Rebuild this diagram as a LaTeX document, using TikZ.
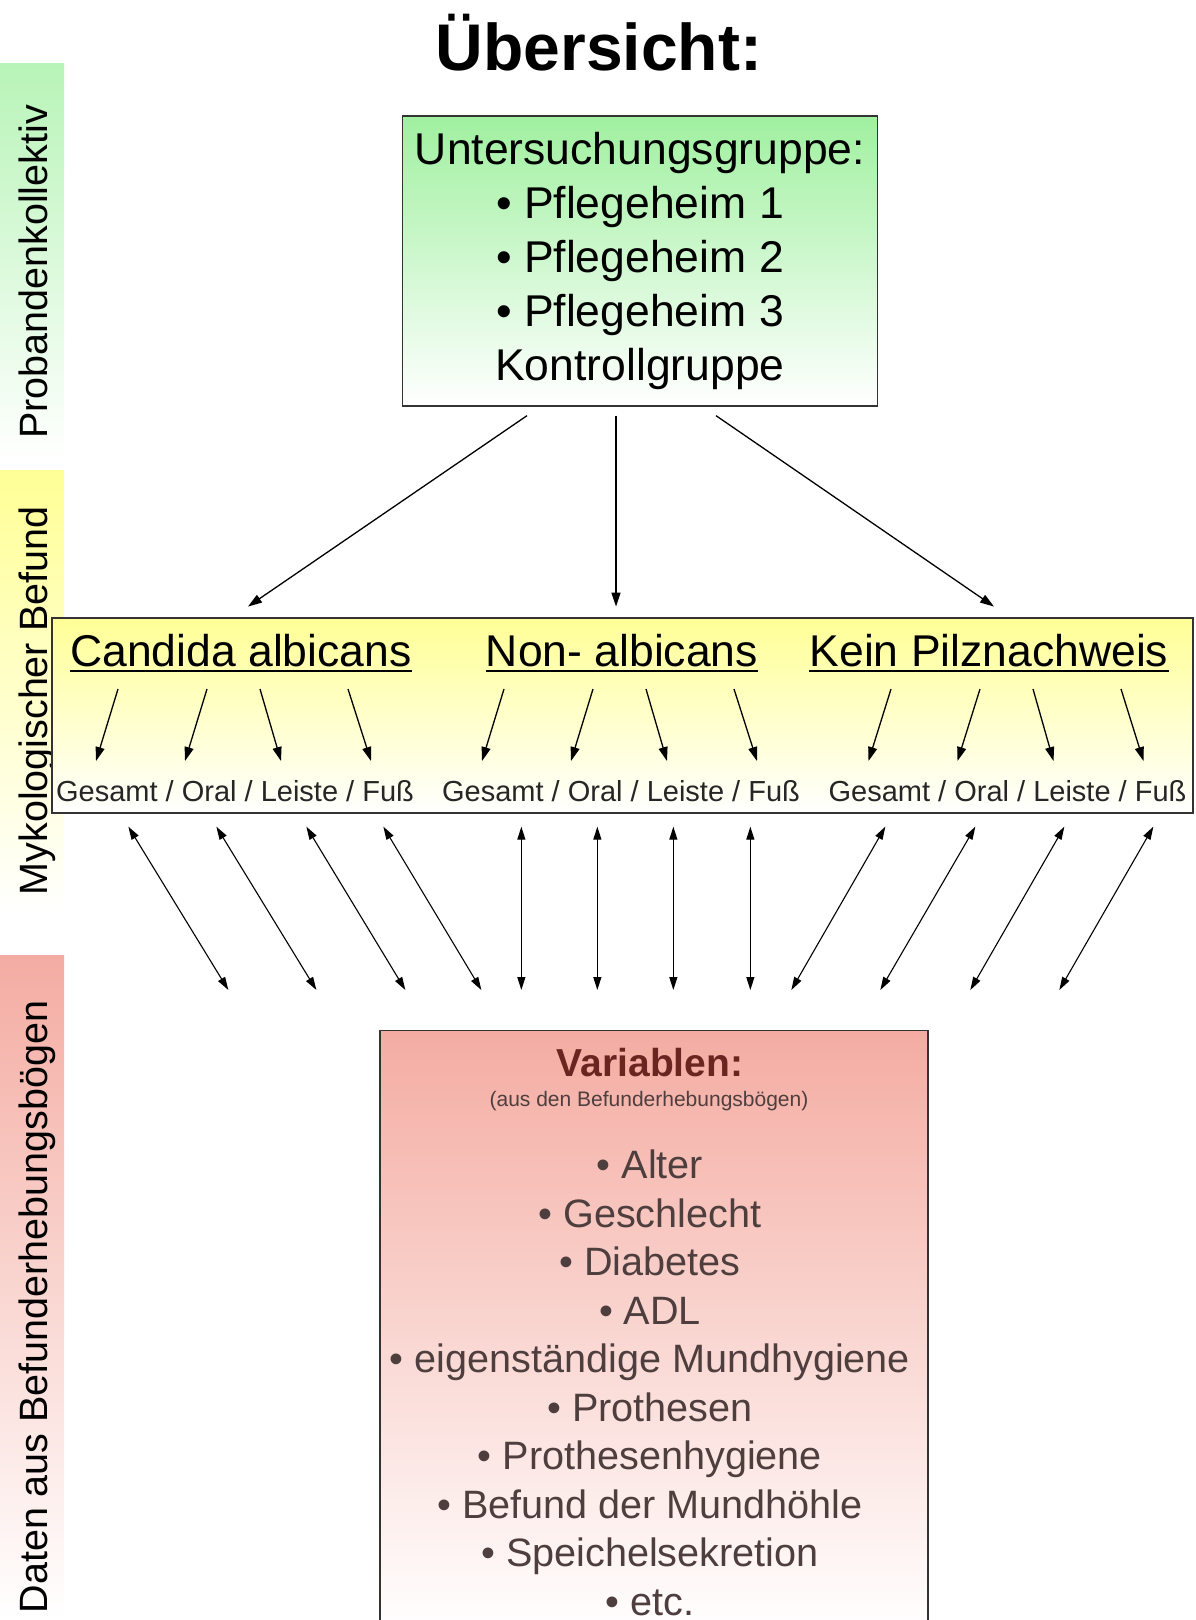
\documentclass[tikz,border=0pt]{standalone}
\usepackage{fontspec}
\setmainfont{Liberation Sans}
\usetikzlibrary{arrows.meta,positioning}
\definecolor{gruen}{RGB}{160,240,160}
\definecolor{gelb}{RGB}{255,255,150}
\definecolor{lachs}{RGB}{244,172,162}
\definecolor{rottext}{RGB}{105,38,32}
\definecolor{grautext}{RGB}{78,62,62}
\tikzset{
  bigfont/.style = {font=\fontsize{44.5}{54}\selectfont},
  gbox/.style    = {draw=black!80,line width=1.3pt,top color=gruen,middle color=gruen!35,
                    bottom color=white,minimum width=475pt,minimum height=290pt,
                    align=center,bigfont},
  ybox/.style    = {draw=black!80,line width=1.3pt,top color=gelb,middle color=gelb!45,
                    bottom color=white,minimum width=1141pt,minimum height=195pt},
  rbox/.style    = {draw=black!80,line width=1.3pt,top color=lachs,middle color=lachs!40,
                    bottom color=white,minimum width=548pt,minimum height=600pt},
  kopf/.style    = {inner sep=0pt,anchor=base,bigfont},
  teil/.style    = {inner sep=0pt,anchor=base,font=\fontsize{29}{34}\selectfont,text=black!85},
  seite/.style   = {rotate=90,anchor=base,inner sep=0pt,font=\fontsize{39.5}{44}\selectfont},
  pfeil/.style   = {-{Triangle[length=14pt,width=9pt]},line width=1.3pt},
  dpfeil/.style  = {{Triangle[length=13pt,width=8pt]}-{Triangle[length=13pt,width=8pt]},
                    line width=1.1pt},
  uline/.style   = {line width=1.5pt},
}
\begin{document}
\begin{tikzpicture}[x=1pt,y=-1pt]
  \useasboundingbox (0,0) rectangle (1195,1620);
  % side bars
  \shade[top color=gruen!75,bottom color=white] (0,63) rectangle (64,462);
  \shade[top color=gelb,bottom color=white] (0,470) rectangle (64,915);
  \shade[top color=lachs,bottom color=white] (0,955) rectangle (64,1620);
  \node[seite] (s1) at (47,272) {Probandenkollektiv};
  \node[seite] (s2) at (47,701) {Mykologischer Befund};
  \node[seite] (s3) at (47,1307) {Daten aus Befunderhebungsbögen};

  \node[anchor=base,font=\fontsize{66}{70}\selectfont\bfseries] (titel) at (599,70) {Übersicht:};

  % groups
  \node[gbox] (grp) at (640,261) {Untersuchungsgruppe:\\ • Pflegeheim 1\\ • Pflegeheim 2\\
        • Pflegeheim 3\\ Kontrollgruppe};

  % mycology
  \node[ybox] (befund) at (622.5,715.5) {};
  \node[kopf] (ca) at (241,666) {Candida albicans};
  \node[kopf] (nca) at (622,666) {Non- albicans};
  \node[kopf] (kein) at (989,666) {Kein Pilznachweis};
  \draw[uline] ([yshift=-5pt]ca.base west) -- ([yshift=-5pt]ca.base east);
  \draw[uline] ([yshift=-5pt]nca.base west) -- ([yshift=-5pt]nca.base east);
  \draw[uline] ([yshift=-5pt]kein.base west) -- ([yshift=-5pt]kein.base east);
  \node[teil] (lab1) at (235,801) {Gesamt / Oral / Leiste / Fuß};
  \node[teil] (lab2) at (621,801) {Gesamt / Oral / Leiste / Fuß};
  \node[teil] (lab3) at (1007.5,801) {Gesamt / Oral / Leiste / Fuß};

  \draw[pfeil] ([xshift=-113pt,yshift=-9pt]grp.south) -- ([xshift=7pt,yshift=27pt]ca.north);
  \draw[pfeil] ([xshift=-24pt,yshift=-9pt]grp.south) -- ([xshift=-6pt,yshift=27pt]nca.north);
  \draw[pfeil] ([xshift=76pt,yshift=-9pt]grp.south) -- ([xshift=5pt,yshift=27pt]kein.north);

  \draw[pfeil] ([xshift=-123pt,yshift=-23pt]ca.base) -- ([xshift=-139pt,yshift=40pt]lab1.base);
  \draw[pfeil] ([xshift=-34pt,yshift=-23pt]ca.base) -- ([xshift=-50pt,yshift=40pt]lab1.base);
  \draw[pfeil] ([xshift=19pt,yshift=-23pt]ca.base) -- ([xshift=46pt,yshift=40pt]lab1.base);
  \draw[pfeil] ([xshift=107pt,yshift=-23pt]ca.base) -- ([xshift=136pt,yshift=40pt]lab1.base);
  \draw[pfeil] ([xshift=-118pt,yshift=-23pt]nca.base) -- ([xshift=-139pt,yshift=40pt]lab2.base);
  \draw[pfeil] ([xshift=-29pt,yshift=-23pt]nca.base) -- ([xshift=-50pt,yshift=40pt]lab2.base);
  \draw[pfeil] ([xshift=24pt,yshift=-23pt]nca.base) -- ([xshift=46pt,yshift=40pt]lab2.base);
  \draw[pfeil] ([xshift=112pt,yshift=-23pt]nca.base) -- ([xshift=136pt,yshift=40pt]lab2.base);
  \draw[pfeil] ([xshift=-98pt,yshift=-23pt]kein.base) -- ([xshift=-139pt,yshift=40pt]lab3.base);
  \draw[pfeil] ([xshift=-9pt,yshift=-23pt]kein.base) -- ([xshift=-50pt,yshift=40pt]lab3.base);
  \draw[pfeil] ([xshift=44pt,yshift=-23pt]kein.base) -- ([xshift=46pt,yshift=40pt]lab3.base);
  \draw[pfeil] ([xshift=132pt,yshift=-23pt]kein.base) -- ([xshift=136pt,yshift=40pt]lab3.base);

  % variables
  \node[rbox,anchor=north] (var) at (654,1030) {};
  \node[anchor=base,font=\fontsize{39}{44}\selectfont\bfseries,text=rottext] (vtitel) at (650,1076) {Variablen:};
  \node[anchor=base,font=\fontsize{21}{24}\selectfont,text=grautext] (vsub) at (649,1106)
        {(aus den Befunderhebungsbögen)};
  \node[anchor=north,inner sep=0pt,align=center,font=\fontsize{39.6}{48.5}\selectfont,text=grautext]
        (vliste) at (650,1150) {• Alter\\ • Geschlecht\\ • Diabetes\\ • ADL\\
        • eigenständige Mundhygiene\\ • Prothesen\\ • Prothesenhygiene\\
        • Befund der Mundhöhle\\ • Speichelsekretion\\ • etc.};

  \draw[dpfeil] ([xshift=77pt,yshift=-13pt]befund.south west) -- ([xshift=-151pt,yshift=40pt]var.north west);
  \draw[dpfeil] ([xshift=165pt,yshift=-13pt]befund.south west) -- ([xshift=-63pt,yshift=40pt]var.north west);
  \draw[dpfeil] ([xshift=255pt,yshift=-13pt]befund.south west) -- ([xshift=26pt,yshift=40pt]var.north west);
  \draw[dpfeil] ([xshift=332pt,yshift=-13pt]befund.south west) -- ([xshift=102pt,yshift=40pt]var.north west);
  \draw[dpfeil] ([xshift=470pt,yshift=-13pt]befund.south west) -- ([xshift=142pt,yshift=40pt]var.north west);
  \draw[dpfeil] ([xshift=546pt,yshift=-13pt]befund.south west) -- ([xshift=218pt,yshift=40pt]var.north west);
  \draw[dpfeil] ([xshift=622pt,yshift=-13pt]befund.south west) -- ([xshift=294pt,yshift=40pt]var.north west);
  \draw[dpfeil] ([xshift=699pt,yshift=-13pt]befund.south west) -- ([xshift=371pt,yshift=40pt]var.north west);
  \draw[dpfeil] ([xshift=834pt,yshift=-13pt]befund.south west) -- ([xshift=412pt,yshift=40pt]var.north west);
  \draw[dpfeil] ([xshift=924pt,yshift=-13pt]befund.south west) -- ([xshift=501pt,yshift=40pt]var.north west);
  \draw[dpfeil] ([xshift=1013pt,yshift=-13pt]befund.south west) -- ([xshift=591pt,yshift=40pt]var.north west);
  \draw[dpfeil] ([xshift=1102pt,yshift=-13pt]befund.south west) -- ([xshift=680pt,yshift=40pt]var.north west);
\end{tikzpicture}
\end{document}
